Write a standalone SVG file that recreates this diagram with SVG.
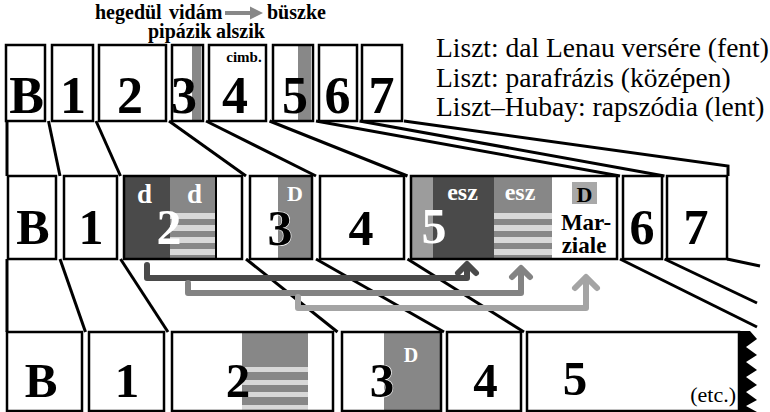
<svg xmlns="http://www.w3.org/2000/svg" width="770" height="412" viewBox="0 0 770 412">
  <style>
    .bg { fill: #fff; }
    .bo { fill: none; stroke: #000; stroke-width: 2.5; }
    .bx { fill: #fff; stroke: #000; stroke-width: 2.5; }
    .num { font-family: "Liberation Serif", "Times New Roman", serif; font-weight: bold; text-anchor: middle; fill: #000; }
    .n1 { font-size: 52px; }
    .n2 { font-size: 50px; }
    .n3 { font-size: 49px; }
    .wt { fill: #fff; }
    .halo { stroke: #fff; stroke-width: 1.2; paint-order: stroke; }
    .lbl { font-family: "Liberation Serif", "Times New Roman", serif; font-weight: bold; font-size: 20px; fill: #000; }
    .sm { font-family: "Liberation Serif", "Times New Roman", serif; font-weight: bold; text-anchor: middle; }
    .leg { font-family: "Liberation Serif", "Times New Roman", serif; font-size: 27.5px; fill: #000; }
    .ln { fill: none; stroke: #000; stroke-width: 3; stroke-linejoin: miter; }
    .arr { fill: none; stroke-width: 6; stroke-linecap: round; stroke-linejoin: round; }
    .dark { fill: #4a4a4a; }
    .mid { fill: #878787; }
    .lite { fill: #d8d8d8; }
  </style>
  <defs>
    <!-- four pale bands laid over a grey field -->
    <g id="bands">
      <rect class="lite" x="0" y="0" width="1" height="6"/>
      <rect class="lite" x="0" y="12" width="1" height="6"/>
      <rect class="lite" x="0" y="24" width="1" height="6"/>
      <rect class="lite" x="0" y="36" width="1" height="6"/>
    </g>
  </defs>

  <!-- header words -->
  <g id="labels">
    <text class="lbl" x="95" y="19">hegedül</text>
    <text class="lbl" x="169" y="19">vidám</text>
    <line x1="225" y1="13" x2="253" y2="13" stroke="#888" stroke-width="4"/>
    <polygon points="250,6.5 263,13 250,19.5" fill="#888"/>
    <text class="lbl" x="267" y="19">büszke</text>
    <text class="lbl" x="148" y="38">pipázik</text>
    <text class="lbl" x="216" y="38">alszik</text>
  </g>

  <g id="legend">
    <text class="leg" x="436" y="57">Liszt: dal Lenau versére (fent)</text>
    <text class="leg" x="436" y="87">Liszt: parafrázis (középen)</text>
    <text class="leg" x="436" y="116">Liszt–Hubay: rapszódia (lent)</text>
  </g>

  <!-- connectors: fan lines between the rows and the return arrows -->
  <g id="connectors">
    <path class="ln" d="M7,121 V176"/>
    <path class="ln" d="M48.5,121 L60,176"/>
    <path class="ln" d="M96,121 L120.5,176"/>
    <path class="ln" d="M169,121 L246,176"/>
    <path class="ln" d="M206,121 L316,176"/>
    <path class="ln" d="M269.5,121 L407.5,176"/>
    <path class="ln" d="M316,121 L620,176"/>
    <path class="ln" d="M359.5,121 L664.5,176"/>
    <path class="ln" d="M404,121 L728,166 V176"/>

    <path class="ln" d="M7,259 V332"/>
    <path class="ln" d="M60,259 L85.5,332"/>
    <path class="ln" d="M120.5,259 L168,332"/>
    <path class="ln" d="M246,259 L337.5,332"/>
    <path class="ln" d="M316,259 L444,332"/>
    <path class="ln" d="M407.5,259 L524,332"/>
    <path class="ln" d="M620,259 L757,327"/>
    <path class="ln" d="M664.5,259 L757,303"/>
    <path class="ln" d="M727,259 L760,266"/>

    <path class="arr" stroke="#4a4a4a" d="M147,265 V278 H467 V266"/>
    <path class="arr" stroke="#4a4a4a" d="M458,273 L467,264 L476,273"/>
    <path class="arr" stroke="#838383" d="M188,283 V293 H521 V269"/>
    <path class="arr" stroke="#838383" d="M512,277 L521,268 L530,277"/>
    <path class="arr" stroke="#a4a4a4" d="M298,297 V308 H586 V278"/>
    <path class="arr" stroke="#a4a4a4" d="M575,288 L586,277 L597,288"/>
  </g>

  <!-- upper row: song -->
  <g id="top-B"><rect class="bx" x="6" y="45" width="39" height="76"/><text class="num n1" x="26.5" y="113">B</text></g>
  <g id="top-1"><rect class="bx" x="52" y="45" width="41" height="76"/><text class="num n1" x="73" y="113">1</text></g>
  <g id="top-2"><rect class="bx" x="99" y="45" width="67" height="76"/><text class="num n1" x="130" y="113">2</text></g>
  <g id="top-3"><rect class="bg" x="172" y="45" width="31" height="76"/><rect fill="#888" x="192" y="45" width="9" height="76"/><text class="num n1" x="184" y="113">3</text><rect class="bo" x="172" y="45" width="31" height="76"/></g>
  <g id="top-4"><rect class="bx" x="209" y="45" width="57" height="76"/><text class="sm" x="244" y="62" font-size="15">cimb.</text><text class="num n1" x="235" y="113">4</text></g>
  <g id="top-5"><rect class="bg" x="273" y="45" width="40" height="76"/><rect fill="#888" x="298" y="45" width="13" height="76"/><text class="num n1" x="295" y="113">5</text><rect class="bo" x="273" y="45" width="40" height="76"/></g>
  <g id="top-6"><rect class="bx" x="319" y="45" width="38" height="76"/><text class="num n1" x="337.5" y="113">6</text></g>
  <g id="top-7"><rect class="bx" x="362" y="45" width="40" height="76"/><text class="num n1" x="381.5" y="113">7</text></g>

  <!-- middle row: paraphrase -->
  <g id="mid-B"><rect class="bx" x="8" y="176" width="48" height="83"/><text class="num n2" x="33" y="244">B</text></g>
  <g id="mid-1"><rect class="bx" x="64" y="176" width="53" height="83"/><text class="num n2" x="91" y="244">1</text></g>
  <g id="mid-2">
    <rect class="bg" x="124" y="176" width="118" height="83"/>
    <rect class="dark" x="124" y="176" width="46" height="83"/>
    <rect class="mid" x="170" y="176" width="46" height="83"/>
    <use href="#bands" transform="translate(170,213) scale(46,1)"/>
    <text class="sm wt" x="144.5" y="203" font-size="27">d</text>
    <text class="sm wt" x="194.5" y="203" font-size="27">d</text>
    <text class="num n2 wt" x="169" y="244">2</text>
    <line x1="216" y1="176" x2="216" y2="259" stroke="#000" stroke-width="2"/>
    <rect class="bo" x="124" y="176" width="118" height="83"/>
  </g>
  <g id="mid-3">
    <rect class="bg" x="250" y="176" width="62" height="83"/>
    <rect class="mid" x="278" y="176" width="34" height="83"/>
    <text class="sm wt" x="295" y="201" font-size="22">D</text>
    <text class="num n2 halo" x="280" y="245">3</text>
    <rect class="bo" x="250" y="176" width="62" height="83"/>
  </g>
  <g id="mid-4"><rect class="bx" x="320" y="176" width="84" height="83"/><text class="num n2" x="361" y="245">4</text></g>
  <g id="mid-5">
    <rect class="bg" x="411" y="176" width="206" height="83"/>
    <rect fill="#9c9c9c" x="411" y="176" width="22" height="83"/>
    <rect class="dark" x="433" y="176" width="61" height="83"/>
    <rect class="mid" x="494" y="176" width="58" height="83"/>
    <use href="#bands" transform="translate(494,213) scale(58,1)"/>
    <text class="sm wt" x="462.5" y="200" font-size="24">esz</text>
    <text class="sm wt" x="520" y="200" font-size="24">esz</text>
    <text class="num n2 wt" x="434" y="243">5</text>
    <rect fill="#a8a8a8" x="572" y="182" width="25" height="22"/>
    <text class="sm" x="584.5" y="202" font-size="22">D</text>
    <text class="sm" x="586" y="230" font-size="23">Mar-</text>
    <text class="sm" x="584" y="253" font-size="23">ziale</text>
    <rect class="bo" x="411" y="176" width="206" height="83"/>
  </g>
  <g id="mid-6"><rect class="bx" x="623" y="176" width="39" height="83"/><text class="num n2" x="642" y="244">6</text></g>
  <g id="mid-7"><rect class="bx" x="667" y="176" width="60" height="83"/><text class="num n2" x="696" y="244">7</text></g>

  <!-- lower row: rhapsody -->
  <g id="low-B"><rect class="bx" x="7" y="332" width="75" height="79"/><text class="num n3" x="41" y="397">B</text></g>
  <g id="low-1"><rect class="bx" x="89" y="332" width="75" height="79"/><text class="num n3" x="127" y="397">1</text></g>
  <g id="low-2">
    <rect class="bg" x="172" y="332" width="161" height="79"/>
    <rect class="mid" x="242" y="332" width="66" height="79"/>
    <rect class="lite" x="242" y="367" width="66" height="5"/>
    <rect class="lite" x="242" y="380" width="66" height="5"/>
    <rect class="lite" x="242" y="392" width="66" height="5"/>
    <rect class="lite" x="242" y="405" width="66" height="5"/>
    <text class="num n3" x="238" y="397">2</text>
    <rect class="bo" x="172" y="332" width="161" height="79"/>
  </g>
  <g id="low-3">
    <rect class="bg" x="342" y="332" width="99" height="79"/>
    <rect class="mid" x="384" y="332" width="57" height="79"/>
    <text class="sm wt" x="411" y="362" font-size="20">D</text>
    <text class="num n3 halo" x="382" y="397">3</text>
    <rect class="bo" x="342" y="332" width="99" height="79"/>
  </g>
  <g id="low-4"><rect class="bx" x="447" y="332" width="74" height="79"/><text class="num n3" x="485.5" y="397">4</text></g>
  <g id="low-5">
    <rect class="bx" x="527" y="332" width="212" height="79"/>
    <text class="num n3" x="575" y="395">5</text>
    <text x="736" y="402" font-family="Liberation Serif, serif" font-size="22" text-anchor="end">(etc.)</text>
    <polygon fill="#000" points="739,331 750,331 757,339 746,347 757,355 746,362 757,370 746,377 757,385 746,392 757,400 746,406 757,412 739,412"/>
  </g>
</svg>
